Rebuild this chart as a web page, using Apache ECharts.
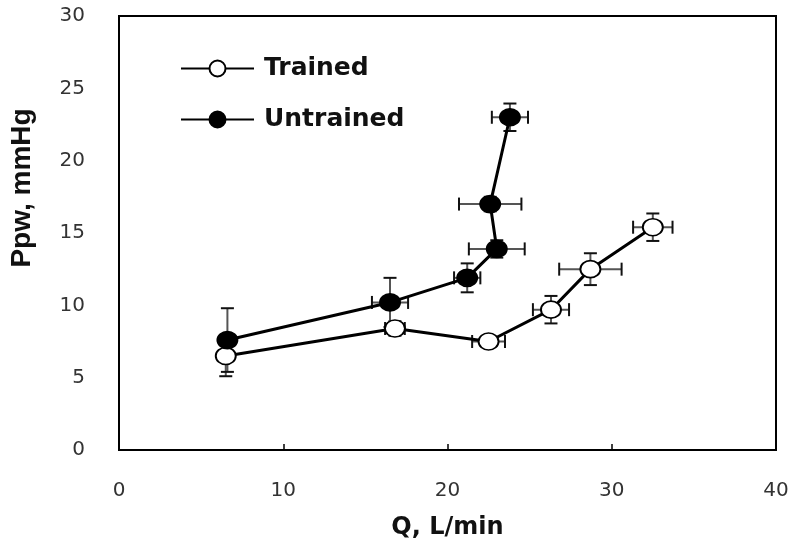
<!DOCTYPE html>
<html>
<head>
<meta charset="utf-8">
<script src="https://cdn.jsdelivr.net/npm/echarts@6/dist/echarts.min.js"></script>
<style>html,body{margin:0;padding:0;background:#fff}#c{width:800px;height:549px}</style>
</head>
<body>
<div id="c"></div>
<script>
// Trained
const trainedQ   = [6.5, 16.8, 22.5, 26.3, 28.7, 32.5];
const trainedP   = [6.5, 8.4, 7.5, 9.7, 12.5, 15.4];
const trainedQErr = [0.3, 0.6, 1.0, 1.1, 1.9, 1.2];
const trainedPErr = [1.4, 0.5, 0.4, 0.95, 1.1, 0.95];
// Untrained
const untrainedQ  = [6.6, 16.5, 21.2, 23.0, 22.6, 23.8];
const untrainedP  = [7.6, 10.2, 11.9, 13.9, 17.0, 23.0];
const untrainedQErr = [0.3, 1.1, 0.8, 1.7, 1.9, 1.1];
const untrainedPErr = [2.2, 1.7, 1.0, 0.6, 0.5, 0.95];
const xTicks = [0, 10, 20, 30, 40];
const yTicks = [0, 5, 10, 15, 20, 25, 30];

function pairs(xs, ys){ return xs.map((x,i)=>[x, ys[i]]); }
function errData(xs, ys, ex, ey){ return xs.map((x,i)=>[x, ys[i], ex[i], ey[i]]); }

function renderErr(params, api){
  const x = api.value(0), y = api.value(1), ex = api.value(2), ey = api.value(3);
  const c = api.coord([x, y]);
  const l = api.coord([x - ex, y]), r = api.coord([x + ex, y]);
  const t = api.coord([x, y + ey]), b = api.coord([x, y - ey]);
  const cap = 6.5;
  const barStyle = {stroke: '#555', lineWidth: 2};
  const capStyle = {stroke: '#111', lineWidth: 2};
  return {type: 'group', children: [
    {type:'line', shape:{x1:l[0], y1:c[1], x2:r[0], y2:c[1]}, style:barStyle},
    {type:'line', shape:{x1:c[0], y1:t[1], x2:c[0], y2:b[1]}, style:barStyle},
    {type:'line', shape:{x1:l[0], y1:c[1]-cap, x2:l[0], y2:c[1]+cap}, style:capStyle},
    {type:'line', shape:{x1:r[0], y1:c[1]-cap, x2:r[0], y2:c[1]+cap}, style:capStyle},
    {type:'line', shape:{x1:c[0]-cap, y1:t[1], x2:c[0]+cap, y2:t[1]}, style:capStyle},
    {type:'line', shape:{x1:c[0]-cap, y1:b[1], x2:c[0]+cap, y2:b[1]}, style:capStyle}
  ]};
}

const chart = echarts.init(document.getElementById('c'), null, {renderer:'canvas'});
const font = '"DejaVu Sans", Arial, sans-serif';
chart.setOption({
  animation: false,
  backgroundColor: '#fff',
  grid: {left: 119, top: 16, right: 24, bottom: 99, show: true, borderColor: '#000', borderWidth: 2, containLabel: false},
  legend: {
    orient: 'vertical', left: 180, top: 56, itemGap: 26, padding: 0,
    itemWidth: 73, itemHeight: 20,
    data: ['Trained', 'Untrained'],
    textStyle: {fontFamily: font, fontWeight: 'bold', fontSize: 25, color: '#111', padding: [0,0,0,5]}
  },
  xAxis: {
    type: 'value', min: xTicks[0], max: xTicks[xTicks.length-1], interval: 10,
    name: 'Q, L/min', nameLocation: 'middle', nameGap: 66,
    nameTextStyle: {fontFamily: font, fontWeight: 'bold', fontSize: 24, color: '#111'},
    axisLine: {lineStyle: {color: '#000', width: 2}},
    axisTick: {inside: true, length: 6, lineStyle: {color: '#000', width: 1.5}},
    axisLabel: {margin: 31, fontFamily: font, fontSize: 20, color: '#333'},
    splitLine: {show: false}
  },
  yAxis: {
    type: 'value', min: yTicks[0], max: yTicks[yTicks.length-1], interval: 5,
    axisLine: {lineStyle: {color: '#000', width: 2}},
    axisTick: {show: false},
    axisLabel: {margin: 34, fontFamily: font, fontSize: 20, color: '#333'},
    splitLine: {show: false}
  },
  graphic: [{
    type: 'text', x: 22, y: 188, rotation: Math.PI/2,
    style: {text: 'Ppw, mmHg', font: 'bold 28px "Liberation Sans", Arial, sans-serif', fill: '#111', align: 'center', verticalAlign: 'middle'}
  }],
  series: [
    {type:'custom', name:'errT', renderItem: renderErr, data: errData(trainedQ, trainedP, trainedQErr, trainedPErr), z: 1, silent: true},
    {type:'custom', name:'errU', renderItem: renderErr, data: errData(untrainedQ, untrainedP, untrainedQErr, untrainedPErr), z: 1, silent: true},
    {type:'line', name:'Trained', data: pairs(trainedQ, trainedP), symbol:'circle', symbolSize:[20,17],
     lineStyle:{color:'#000', width:3}, itemStyle:{color:'#fff', borderColor:'#000', borderWidth:1.8}, z: 3},
    {type:'line', name:'Untrained', data: pairs(untrainedQ, untrainedP), symbol:'circle', symbolSize:[20,17],
     lineStyle:{color:'#000', width:3}, itemStyle:{color:'#000', borderColor:'#000', borderWidth:1.8}, z: 4}
  ]
});
</script>
</body>
</html>
